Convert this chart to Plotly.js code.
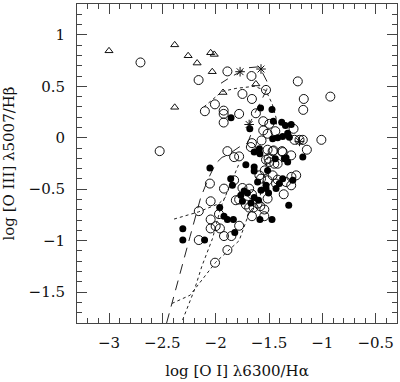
<!DOCTYPE html>
<html><head><meta charset="utf-8">
<script src="https://cdn.plot.ly/plotly-3.0.1.min.js"></script>
<style>html,body{margin:0;padding:0;background:#fff}#plot{width:400px;height:382px}</style>
</head><body><div id="plot"></div>
<script>
// open circles
const openX = [-2.705,-2.525,-2.16,-1.89,-2.101,-2.007,-1.925,-1.925,-1.925,-1.78,-1.89,-1.827,-1.78,-1.664,-1.749,-1.66,-1.528,-1.623,-1.23,-1.174,-1.179,-0.925,-1.554,-1.497,-1.554,-1.513,-1.441,-1.27,-1.261,-1.214,-1.183,-1.145,-1.009,-1.66,-1.67,-1.57,-1.457,-1.378,-1.292,-1.504,-2.054,-2.047,-2.158,-2.158,-1.922,-1.969,-2.047,-2.047,-2.0,-1.96,-1.922,-1.853,-1.78,-1.89,-2.006,-1.66,-1.544,-1.544,-1.607,-1.827,-1.749,-1.686,-1.66,-1.78,-1.811,-1.717,-1.686,-1.645,-1.582,-1.513,-1.362,-1.34,-1.292,-1.245,-1.29,-1.419,-1.466,-1.513,-1.434,-1.575,-1.59,-1.54,-1.497,-1.45,-1.419,-1.372,-1.513,-1.466,-1.528];
const openY = [0.732,-0.13,0.561,0.645,0.258,0.325,0.264,0.232,0.148,0.232,-0.13,-0.188,-0.181,0.6,0.426,0.377,0.465,0.238,0.548,0.377,0.271,0.4,0.161,0.135,0.071,0.039,0.064,0.087,-0.02,-0.02,-0.02,-0.116,-0.02,-0.052,-0.09,-0.026,-0.123,-0.13,-0.171,-0.203,-0.445,-0.617,-0.713,-0.994,-0.494,-0.742,-0.794,-0.881,-0.859,-0.881,-0.955,-0.955,-0.855,-1.091,-1.214,-0.762,-0.762,-0.697,-0.639,-0.413,-0.488,-0.494,-0.549,-0.6,-0.607,-0.649,-0.678,-0.678,-0.665,-0.591,-0.549,-0.43,-0.462,-0.365,-0.38,-0.407,-0.365,-0.413,-0.445,-0.397,-0.365,-0.317,-0.236,-0.252,-0.252,-0.139,-0.116,-0.13,-0.213];
// filled circles
const fillX = [-1.856,-1.579,-1.472,-1.459,-1.68,-1.381,-1.346,-1.292,-1.325,-1.309,-1.466,-1.419,-1.372,-1.639,-1.59,-1.585,-1.34,-1.183,-2.054,-2.308,-2.308,-2.104,-1.962,-1.922,-1.89,-1.834,-1.821,-1.585,-1.472,-1.315,-1.717,-1.639,-1.639,-1.607,-1.859,-1.843,-1.764,-1.702,-1.639,-1.749,-1.67,-1.598,-1.733,-1.575,-1.504,-1.528,-1.434,-1.277,-1.372,-1.403,-1.528,-1.513,-1.441,-1.356,-1.325];
const fillY = [0.194,0.29,0.274,0.161,0.087,0.151,0.119,0.129,0.045,0.006,-0.01,0.0,0.013,-0.139,-0.107,-0.155,-0.194,-0.188,-0.294,-0.885,-0.994,-0.994,-0.678,-0.762,-0.794,-0.794,-0.92,-0.794,-0.794,-0.655,-0.261,-0.284,-0.323,-0.43,-0.397,-0.462,-0.559,-0.536,-0.581,-0.617,-0.633,-0.607,-0.517,-0.51,-0.536,-0.494,-0.494,-0.413,-0.397,-0.445,-0.462,-0.317,-0.203,-0.203,-0.236];
// triangles
const triX = [-3.0,-2.384,-2.258,-2.174,-2.047,-2.013,-2.032,-2.384,-1.931,-1.623];
const triY = [0.845,0.903,0.797,0.726,0.826,0.81,0.642,0.296,0.44,0.523];
// stars
const starX = [-1.771,-1.575,-1.686,-1.214];
const starY = [0.642,0.668,0.129,-0.035];
// dashed model track
const dashX = [-2.46,-2.3,-2.24,-2.14,-2.07,-2.0,-1.94,-1.89,-1.78,-1.70,-1.67,-1.686,-1.62,-1.56,-1.52,-1.52,-1.56,-1.59,-1.70,-1.77,-1.86,-1.95];
const dashY = [-1.8,-1.17,-0.96,-0.58,-0.40,-0.25,-0.19,-0.17,-0.09,-0.05,0.03,0.13,0.27,0.39,0.47,0.55,0.64,0.69,0.68,0.64,0.59,0.53];
// dotted tracks
const dotArcX = [-2.11,-2.03,-1.94,-1.81,-1.64,-1.53,-1.47,-1.43,-1.43];
const dotArcY = [0.30,0.37,0.45,0.48,0.50,0.46,0.33,0.18,0.13];
const dotCX = [-2.39,-2.16,-1.97,-1.90];
const dotCY = [-0.79,-0.72,-0.64,-0.57];
const dotAX = [-2.31,-2.2,-2.13,-2.03,-1.95,-1.86,-1.78];
const dotAY = [-1.77,-1.48,-1.25,-0.98,-0.67,-0.45,-0.25];
const dotBX = [-2.41,-2.24,-2.0,-1.78,-1.69,-1.585,-1.554,-1.528,-1.51];
const dotBY = [-1.61,-1.53,-1.21,-1.0,-0.74,-0.575,-0.41,-0.28,-0.15];

const lineCol = '#222';
const dotLine = (x,y)=>({x,y,mode:'lines',line:{color:lineCol,width:1,dash:'dot'},hoverinfo:'skip'});
const data = [
  {x:dashX,y:dashY,mode:'lines',line:{color:lineCol,width:1,dash:'10px,7px'}},
  dotLine(dotArcX,dotArcY), dotLine(dotCX,dotCY), dotLine(dotAX,dotAY), dotLine(dotBX,dotBY),
  {x:openX,y:openY,mode:'markers',marker:{symbol:'circle-open',size:9,color:'#111',line:{width:1}}},
  {x:fillX,y:fillY,mode:'markers',marker:{symbol:'circle',size:7,color:'#000'}},
  {x:triX,y:triY,mode:'markers',marker:{symbol:'triangle-up-open',size:7,color:'#111',line:{width:1}}},
  {x:starX,y:starY,mode:'markers',marker:{symbol:'asterisk-open',size:8,color:'#111',line:{width:1}}}
];
const fnt = {family:'DejaVu Serif, serif',size:15,color:'#111'};
const axBase = {
  showgrid:false, zeroline:false, showline:true, linecolor:'#444', linewidth:1, mirror:'allticks',
  ticks:'inside', ticklen:10, tickwidth:1, tickcolor:'#444', tickfont:fnt,
  minor:{dtick:0.1, ticks:'inside', ticklen:5, tickwidth:1, tickcolor:'#444', showgrid:false}
};
const layout = {
  width:400, height:382, showlegend:false,
  margin:{l:77,r:3,t:4,b:59},
  paper_bgcolor:'#fff', plot_bgcolor:'#fff',
  xaxis:Object.assign({}, axBase, {range:[-3.3,-0.3], dtick:0.5, tick0:0, ticklabelstandoff:6,
    title:{text:'log [O I] λ6300/Hα', font:fnt, standoff:14}}),
  yaxis:Object.assign({}, axBase, {range:[-1.8,1.3], dtick:0.5, tick0:0, ticklabelstandoff:8,
    title:{text:'log [O III] λ5007/Hβ', font:fnt, standoff:10}})
};
Plotly.newPlot('plot', data, layout, {staticPlot:true, displayModeBar:false});
</script></body></html>
